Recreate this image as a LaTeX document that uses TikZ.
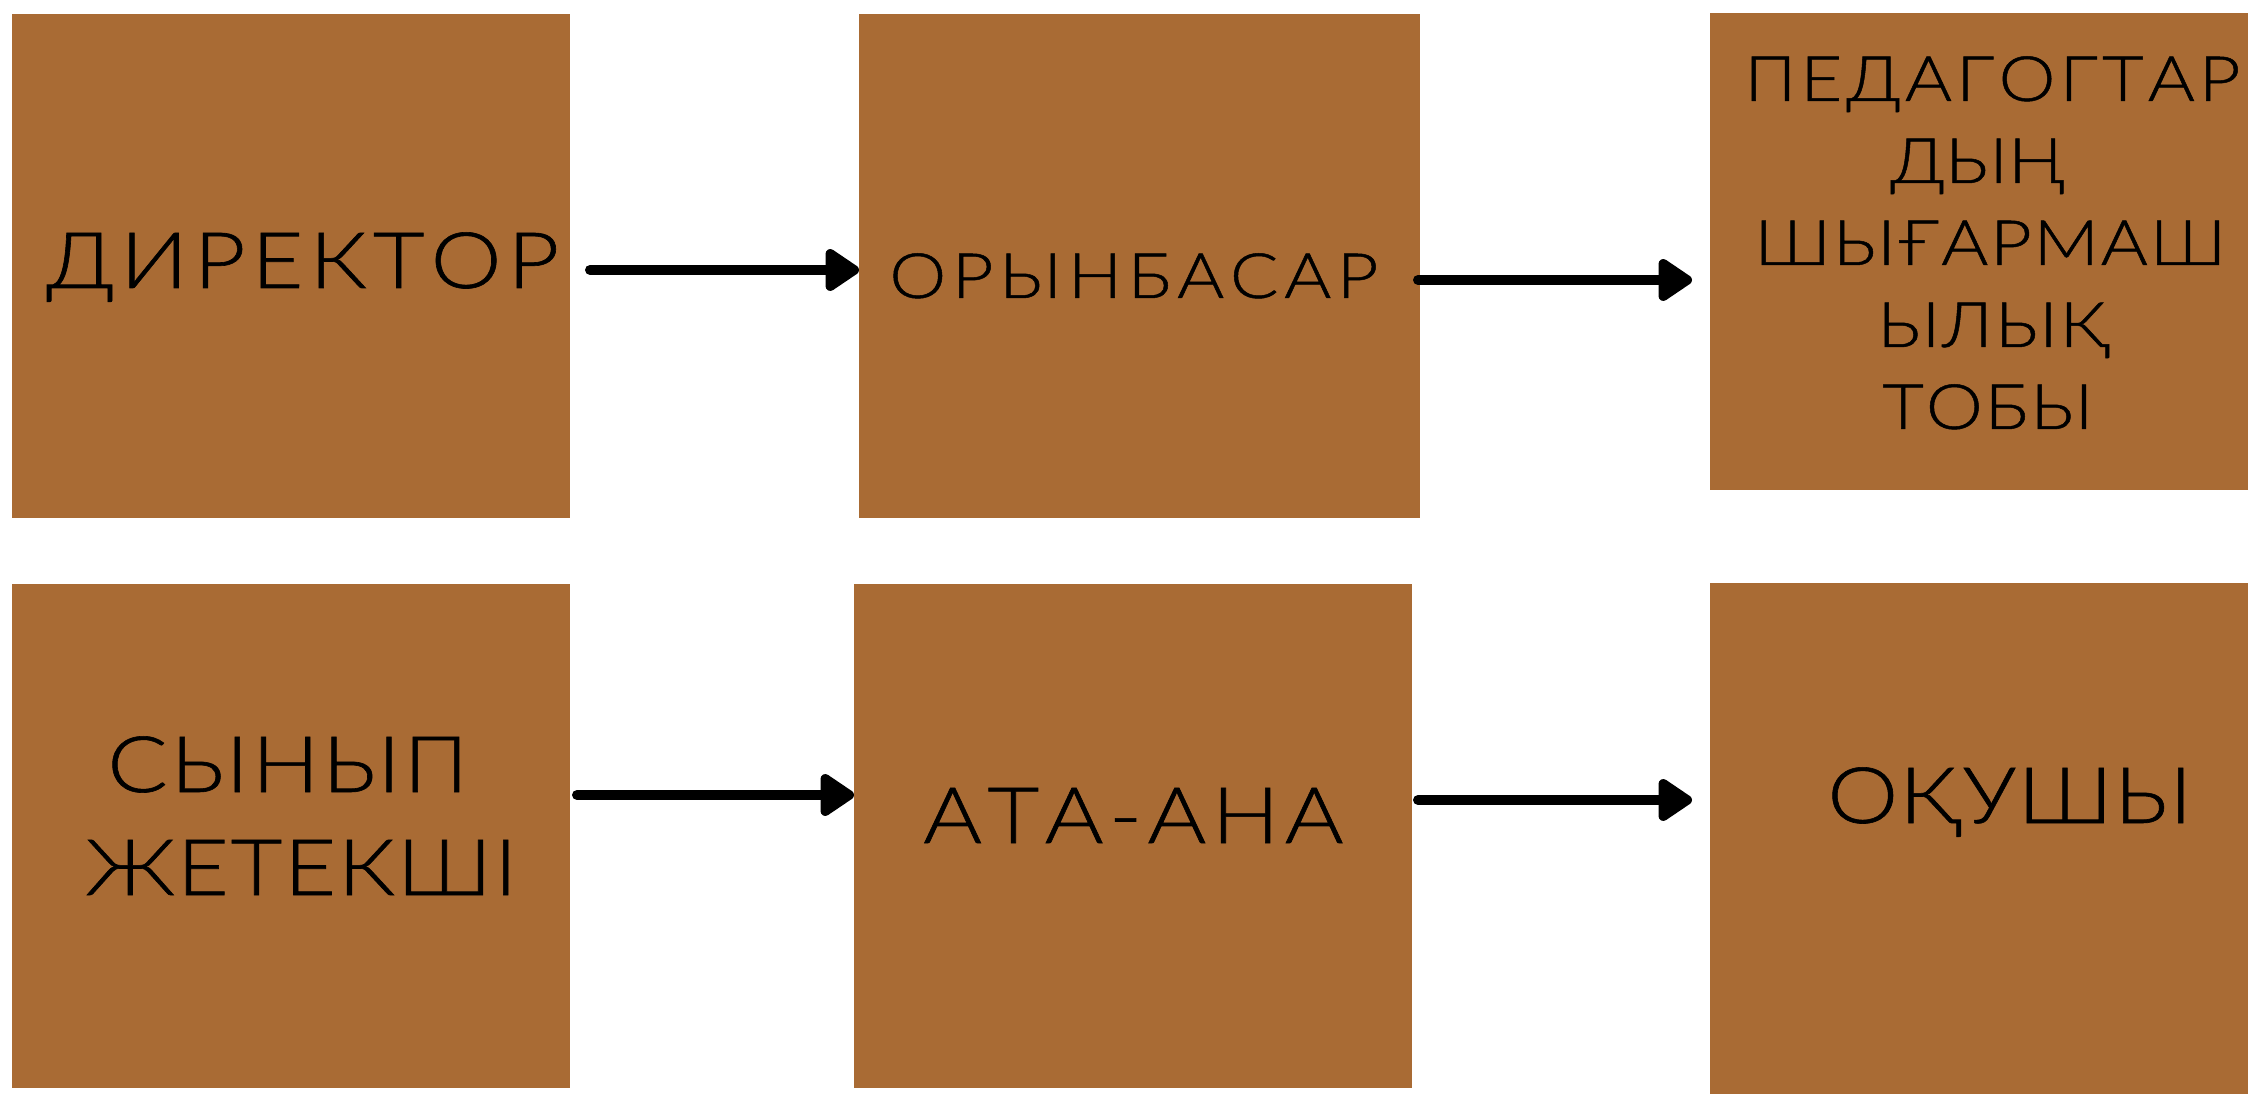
\documentclass[tikz,border=0pt]{standalone}
\usepackage{fontspec}
\IfFontExistsTF{Lato Light}{%
  \newfontfamily\lab[FakeStretch=1.15,FakeBold=0.8]{Lato Light}\def\bigsz{44.3pt}\def\smallsz{35.6pt}}{%
\IfFontExistsTF{Open Sans Light}{%
  \newfontfamily\lab[FakeStretch=1.1,FakeBold=0.8]{Open Sans Light}\def\bigsz{44.5pt}\def\smallsz{35.7pt}}{%
\IfFontExistsTF{Noto Sans Light}{%
  \newfontfamily\lab[FakeStretch=1.1,FakeBold=0.8]{Noto Sans Light}\def\bigsz{44.5pt}\def\smallsz{35.7pt}}{%
\IfFontExistsTF{DejaVu Sans ExtraLight}{%
  \newfontfamily\lab[FakeBold=0.8]{DejaVu Sans ExtraLight}\def\bigsz{43.6pt}\def\smallsz{35pt}}{%
  \newfontfamily\lab{Fira Sans}\def\bigsz{46.1pt}\def\smallsz{37pt}}}}}
\usetikzlibrary{arrows.meta,fit}
\definecolor{boxbrown}{RGB}{169,107,52}
\makeatletter
\newdimen\pxu \pxu=0.02cm
\newcommand\trk[2]{\makebox[#1\pxu][s]{\trk@a#2\relax}}
\def\trk@a#1{#1\trk@b}
\def\trk@b#1{\ifx\relax#1\else\hfil#1\expandafter\trk@b\fi}
\makeatother
\begin{document}
\begin{tikzpicture}[x=0.02cm,y=-0.02cm,
  box/.style={fill=boxbrown, draw=none, inner sep=0pt, outer sep=0pt},
  big/.style={font=\lab\fontsize{\bigsz}{50pt}\selectfont, anchor=base west, inner sep=0pt, text=black},
  small/.style={font=\lab\fontsize{\smallsz}{40pt}\selectfont, anchor=base west, inner sep=0pt, text=black},
  arr/.style={line width=0.2cm, line cap=round, -{Triangle[length=0.75cm, width=0.95cm, round]}}]
\useasboundingbox (0,0) rectangle (2248,1094);
\fill[white] (0,0) rectangle (2248,1094);
% boxes
\node[box, fit={(12,14) (570,518)}] (b1) {};
\node[box, fit={(859,14) (1420,518)}] (b2) {};
\node[box, fit={(1710,13) (2248,490)}] (b3) {};
\node[box, fit={(12,584) (570,1088)}] (b4) {};
\node[box, fit={(854,584) (1412,1088)}] (b5) {};
\node[box, fit={(1710,583) (2248,1094)}] (b6) {};
% texts
\node[big] (t1) at (46,288) {\trk{513}{ДИРЕКТОР}};
\node[small] (t2) at (889,298) {\trk{489}{ОРЫНБАСАР}};
\node[small] (t3a) at (1744,101) {\trk{496}{ПЕДАГОГТАР}};
\node[small] (t3b) at (1890,183) {\trk{175}{ДЫҢ}};
\node[small] (t3c) at (1754,265) {\trk{472}{ШЫҒАРМАШ}};
\node[small] (t3d) at (1877,347) {\trk{232}{ЫЛЫҚ}};
\node[small] (t3e) at (1882,429) {\trk{211}{ТОБЫ}};
\node[big] (t4a) at (107,792) {\trk{361}{СЫНЫП}};
\node[big] (t4b) at (85,895) {\trk{432}{ЖЕТЕКШІ}};
\node[big] (t5) at (923,843) {\trk{420}{АТА-АНА}};
\node[big] (t6) at (1827,823) {\trk{365}{ОҚУШЫ}};
% arrows
\coordinate (a1s) at (590,270);
\coordinate (a2s) at (1418,280);
\coordinate (a2e) at (1692,280);
\coordinate (a3s) at (577,795);
\coordinate (a4s) at (1418,800);
\coordinate (a4e) at (1692,800);
\draw[arr] (a1s) -- (a1s -| b2.west);
\draw[arr] (a2s) -- (a2e);
\draw[arr] (a3s) -- (a3s -| b5.west);
\draw[arr] (a4s) -- (a4e);
\end{tikzpicture}
\end{document}
